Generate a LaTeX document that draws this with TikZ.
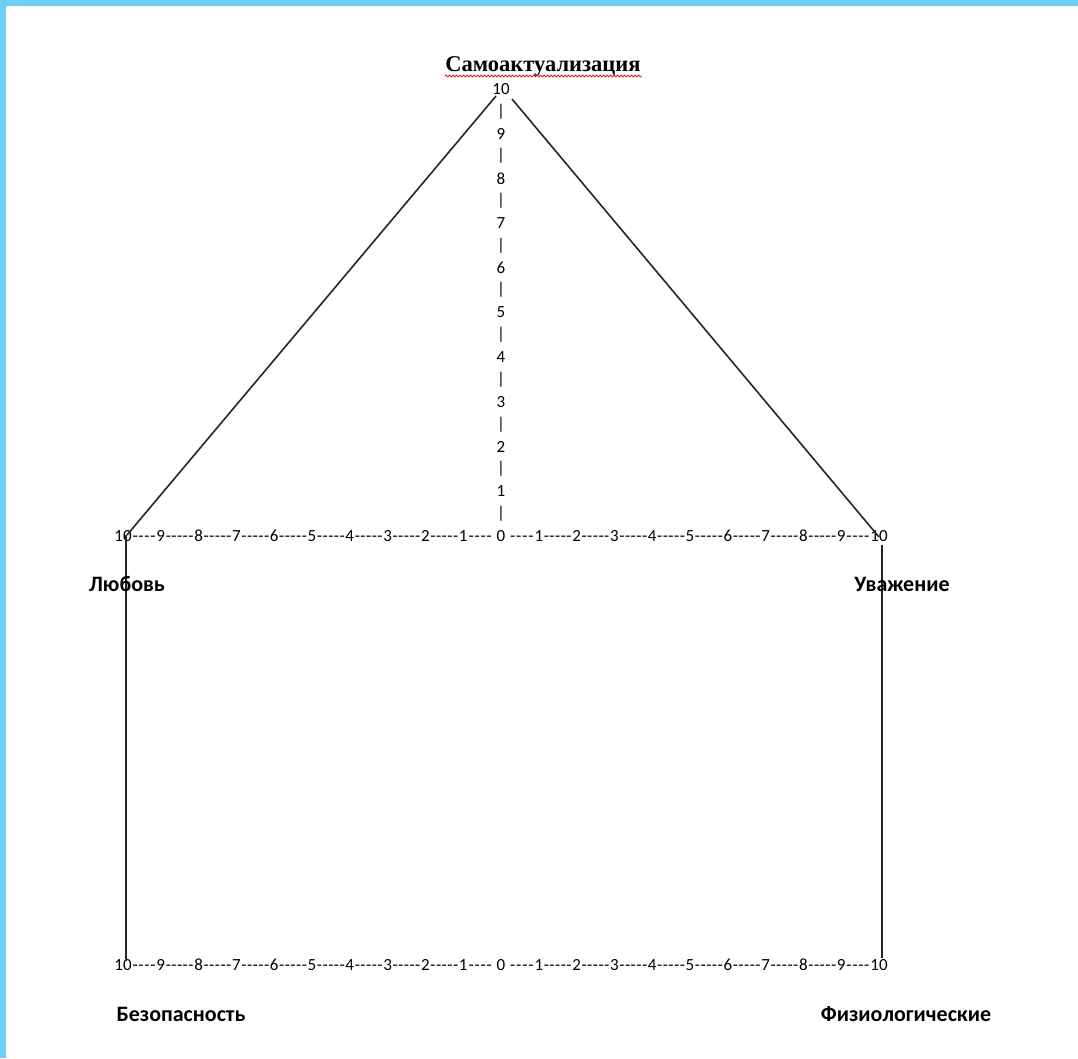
\documentclass[tikz,border=0pt]{standalone}
\usepackage{fontspec}
\setmainfont{Carlito}
\newfontfamily\titlefont{Liberation Serif}
\usetikzlibrary{decorations.pathmorphing}
\definecolor{frameblue}{RGB}{109,207,246}
\definecolor{spellred}{RGB}{225,30,30}
\begin{document}
\begin{tikzpicture}[x=1pt,y=-1pt,
  num/.style={inner sep=0pt, font=\fontsize{17}{17}\selectfont},
  rownum/.style={num, anchor=base},
  lbl/.style={inner sep=0pt, font=\fontsize{22}{22}\selectfont\bfseries},
  ttl/.style={inner sep=0pt, font=\titlefont\bfseries\fontsize{22.5}{22.5}\selectfont},
  edge/.style={line width=1.6pt, black!85},
  wavy/.style={spellred, line width=0.8pt, decorate, decoration={snake, amplitude=1pt, segment length=3.5pt}}]
\useasboundingbox (0,0) rectangle (1078,1058);
\fill[white] (0,0) rectangle (1078,1058);
\fill[frameblue] (0,0) rectangle (1078,6);
\fill[frameblue] (0,0) rectangle (6,1058);

% title
\node[ttl] (title) at (543,66) {Самоактуализация};
\coordinate (wS) at (445,76);
\coordinate (wE) at (642,76);
\draw[wavy] (wS) -- (wE);

% vertical axis
\foreach \i in {1,...,10}{
  \node[num] (v\i) at (501,{536-44.7*\i}) {\i};
}
\foreach \i in {0,...,9}{
  \node[num] (bar\i) at (501,{536-44.7*(\i+0.5)}) {|};
}

% horizontal rows (baseline aligned)
\foreach \i in {-10,...,10}{
  \pgfmathtruncatemacro\k{abs(\i)}
  \node[rownum] (u\i) at ({501+37.8*\i},541.5) {\k};
  \node[rownum] (b\i) at ({501+37.8*\i},970.5) {\k};
}
\foreach \i in {-10,...,9}{
  \pgfmathsetmacro\j{\i+1}
  \pgfmathsetmacro\ha{abs(\i)==10 ? 8.6 : (\i==0 ? 8.2 : 4.3)}
  \pgfmathsetmacro\hb{abs(\j)==10 ? 8.6 : (\j==0 ? 8.2 : 4.3)}
  \pgfmathsetmacro\a{501+37.8*\i+\ha+0.2}
  \pgfmathsetmacro\b{501+37.8*\j-\hb-0.2}
  \pgfmathsetmacro\w{\b-\a}
  \pgfmathsetmacro\m{(\a+\b)/2}
  \node[rownum] (du\i) at (\m,541.5) {\hbox to \w pt{\xleaders\hbox{-}\hfill}};
  \node[rownum] (db\i) at (\m,970.5) {\hbox to \w pt{\xleaders\hbox{-}\hfill}};
}

% frame lines
\coordinate (aL) at (496,96);
\coordinate (aR) at (512,99);
\coordinate (cL) at (127,535);
\coordinate (cR) at (879,537);
\coordinate (vLt) at (126,535);
\coordinate (vLb) at (126,961);
\coordinate (vRt) at (882,545);
\coordinate (vRb) at (882,958);
\draw[edge] (aL) -- (cL);
\draw[edge] (aR) -- (cR);
\draw[edge] (vLt) -- (vLb);
\draw[edge] (vRt) -- (vRb);

% labels
\node[lbl] (love) at (127,584) {Любовь};
\node[lbl] (resp) at (902,584) {Уважение};
\node[lbl] (safe) at (181,1014) {Безопасность};
\node[lbl] (phys) at (906,1014) {Физиологические};
\end{tikzpicture}
\end{document}
